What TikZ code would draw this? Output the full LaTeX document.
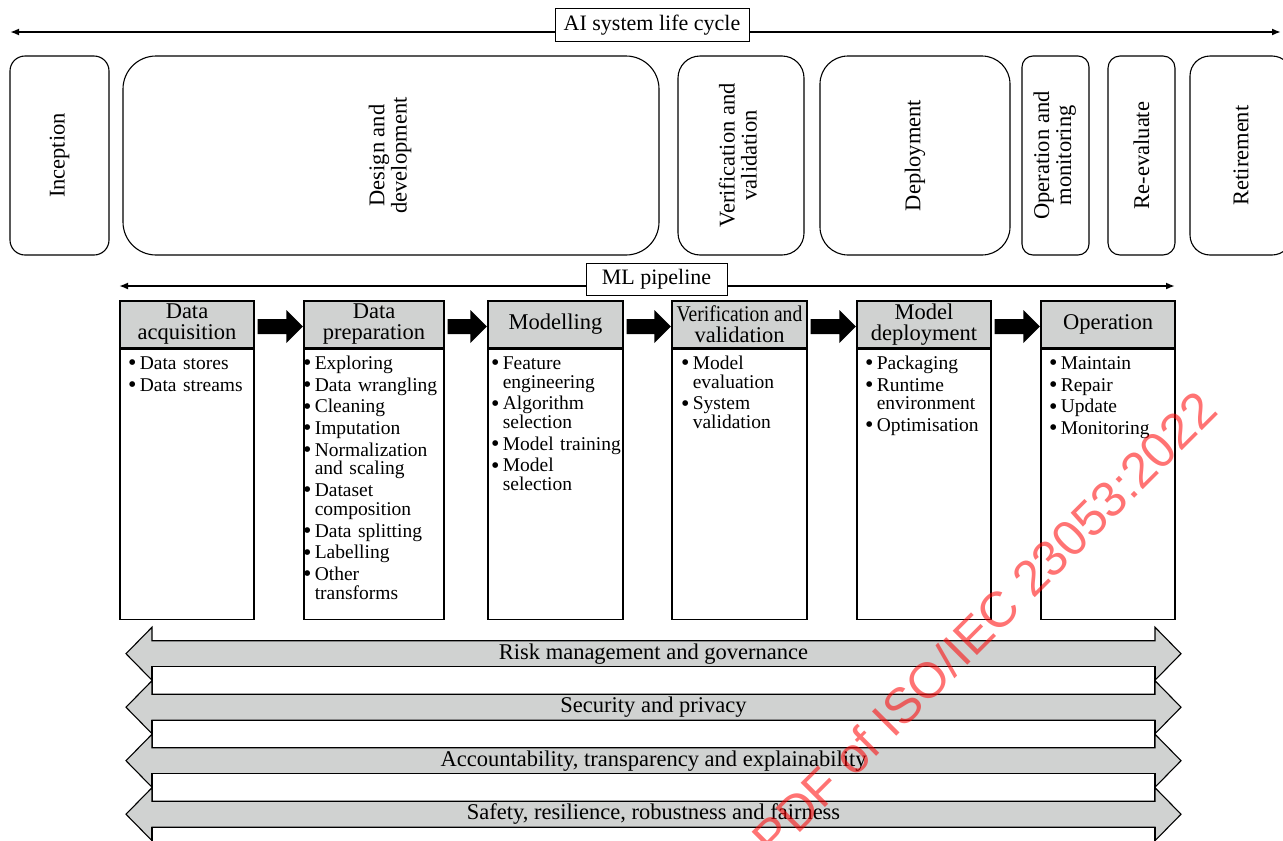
\documentclass[tikz,border=0pt]{standalone}
\usepackage{graphicx}
\usepackage{fontspec}
\setmainfont{Liberation Serif}
\newfontfamily\wmfont{Liberation Sans}
\usetikzlibrary{arrows.meta,calc}
\definecolor{bandgray}{RGB}{208,210,209}

% bullet item and continuation line for the stage lists
\newcommand{\itm}[1]{\makebox[11pt][l]{\hspace*{-0.6pt}\raisebox{-1.3pt}{\fontsize{24}{24}\selectfont\textbullet}}#1}
\newcommand{\cnt}{\hspace*{11pt}}

% thick black arrow between two stage headers
\newcommand{\blockarrow}[2]{%
  \fill let \p1=(#1.east), \p2=(#2.west) in
    (\x1+3pt,\y1+5.5pt) -- (\x2-17pt,\y1+5.5pt) -- (\x2-17pt,\y1+14.5pt)
    -- (\x2-0.5pt,\y1-2pt) -- (\x2-17pt,\y1-18.5pt) -- (\x2-17pt,\y1-9.5pt)
    -- (\x1+3pt,\y1-9.5pt) -- cycle;}

% cross-cutting band: grey double arrow with its label, white strip below
\newcommand{\band}[3]{%
  \draw[bandshape] (152,#2-13) -- (152,#2-26.5) -- (126,#2) -- (152,#2+26.5)
    -- (152,#2+13) -- (1155,#2+13) -- (1155,#2+26.5) -- (1181,#2)
    -- (1155,#2-26.5) -- (1155,#2-13) -- cycle;
  \node[bandtext] (#1) at (653.5,#2) {#3};
  \draw[gapstrip] (152,#2+13) rectangle (1155,#2+40.5);}

\begin{document}
\begin{tikzpicture}[x=1pt,y=-1pt,
  phase/.style={draw, line width=1.1pt, minimum height=199pt, inner sep=0pt,
    font=\fontsize{22.5}{22}\selectfont},
  lbl/.style={draw, fill=white, line width=0.9pt, inner sep=0pt,
    font=\fontsize{22}{24}\selectfont},
  lifespan/.style={line width=2pt, {Latex[length=9pt,width=7pt]}-{Latex[length=9pt,width=7pt]}},
  hdr/.style={draw, fill=bandgray, line width=1.3pt, minimum height=47pt,
    inner sep=0pt, align=center, font=\fontsize{22.5}{21}\selectfont},
  bodybox/.style={draw, line width=1.3pt, inner sep=0pt, minimum height=270pt, anchor=north},
  items/.style={anchor=base west, inner sep=0pt, text width=135pt, align=left,
    font=\fontsize{19.5}{18.7}\selectfont},
  bandshape/.style={fill=bandgray, draw=black, line width=1.1pt},
  gapstrip/.style={fill=white, draw=black, line width=1.1pt},
  bandtext/.style={inner sep=0pt, font=\fontsize{22.5}{24}\selectfont},
  wm/.style={inner sep=0pt, text=red, text opacity=0.55,
    font=\wmfont\fontsize{50}{50}\selectfont},
]
\useasboundingbox (0,0) rectangle (1283,841);
\clip (0,0) rectangle (1283,841);

% ---- AI system life cycle ----
\coordinate (lcL) at (10,32);
\coordinate (lcR) at (1281,32);
\draw[lifespan] (lcL) -- (lcR);
\node[lbl, minimum width=194pt, minimum height=33pt] (lc) at (652,25) {AI system life cycle};

\node[phase, rounded corners=15pt, minimum width=99pt] (inception) at (59.5,155.5)
  {\rotatebox{90}{Inception}};
\node[phase, rounded corners=33pt, minimum width=536pt] (design) at (391,155.5)
  {\rotatebox{90}{\begin{tabular}{@{}c@{}}Design and\\development\end{tabular}}};
\node[phase, rounded corners=22pt, minimum width=126pt] (vv) at (741,155.5)
  {\rotatebox{90}{\begin{tabular}{@{}c@{}}Verification and\\validation\end{tabular}}};
\node[phase, rounded corners=28pt, minimum width=190pt] (deploy) at (915,155.5)
  {\rotatebox{90}{Deployment}};
\node[phase, rounded corners=11pt, minimum width=67pt] (opmon) at (1055.5,155.5)
  {\rotatebox{90}{\begin{tabular}{@{}c@{}}Operation and\\monitoring\end{tabular}}};
\node[phase, rounded corners=12pt, minimum width=67pt] (reeval) at (1141.5,155.5)
  {\rotatebox{90}{Re-evaluate}};
\node[phase, rounded corners=20pt, minimum width=102pt] (retire) at (1241,155.5)
  {\rotatebox{90}{Retirement}};

% ---- ML pipeline ----
\coordinate (mlL) at (119,286);
\coordinate (mlR) at (1175,286);
\draw[lifespan] (mlL) -- (mlR);
\node[lbl, minimum width=141pt, minimum height=32pt] (ml) at (656.5,279.5) {ML pipeline};

\node[hdr, minimum width=134pt] (h1) at (187,324.5) {Data\\acquisition};
\node[hdr, minimum width=140pt] (h2) at (374,324.5) {Data\\preparation};
\node[hdr, minimum width=135pt] (h3) at (555.5,324.5) {Modelling};
\node[hdr, minimum width=135pt] (h4) at (739.5,324.5) {\scalebox{0.87}[1]{Verification and}\\validation};
\node[hdr, minimum width=134pt] (h5) at (924,324.5) {Model\\deployment};
\node[hdr, minimum width=134pt] (h6) at (1108,324.5) {Operation};

\node[bodybox, minimum width=134pt] (b1) at (h1.south) {};
\node[bodybox, minimum width=140pt] (b2) at (h2.south) {};
\node[bodybox, minimum width=135pt] (b3) at (h3.south) {};
\node[bodybox, minimum width=135pt] (b4) at (h4.south) {};
\node[bodybox, minimum width=134pt] (b5) at (h5.south) {};
\node[bodybox, minimum width=134pt] (b6) at (h6.south) {};

\blockarrow{h1}{h2}
\blockarrow{h2}{h3}
\blockarrow{h3}{h4}
\blockarrow{h4}{h5}
\blockarrow{h5}{h6}

\node[items] (l1) at (128.6,369.4)
  {\itm{Data stores}\\[3pt]\itm{Data streams}};
\node[items] (l2) at (303.6,369.4)
  {\itm{Exploring}\\[3pt]\itm{Data wrangling}\\[3pt]\itm{Cleaning}\\[3pt]%
   \itm{Imputation}\\[3pt]\itm{Normalization}\\\cnt and scaling\\[3pt]%
   \itm{Dataset}\\\cnt composition\\[3pt]\itm{Data splitting}\\[3pt]%
   \itm{Labelling}\\[3pt]\itm{Other}\\\cnt transforms};
\node[items] (l3) at (491.6,369.4)
  {\itm{Feature}\\\cnt engineering\\[3pt]\itm{Algorithm}\\\cnt selection\\[3pt]%
   \itm{Model training}\\[3pt]\itm{Model}\\\cnt selection};
\node[items] (l4) at (681.6,369.4)
  {\itm{Model}\\\cnt evaluation\\[3pt]\itm{System}\\\cnt validation};
\node[items] (l5) at (865.6,369.4)
  {\itm{Packaging}\\[3pt]\itm{Runtime}\\\cnt environment\\[3pt]\itm{Optimisation}};
\node[items] (l6) at (1049.6,369.4)
  {\itm{Maintain}\\[3pt]\itm{Repair}\\[3pt]\itm{Update}\\[3pt]\itm{Monitoring}};

% ---- cross-cutting concerns ----
\band{risk}{653.7}{Risk management and governance}
\band{security}{707.2}{Security and privacy}
\band{account}{760.7}{Accountability, transparency and explainability}
\band{safety}{814.2}{Safety, resilience, robustness and fairness}

% ---- watermark ----
\node[wm, rotate=45, anchor=base east] (wmark) at (1220,413) {full PDF of ISO/IEC 23053:2022};
\end{tikzpicture}
\end{document}
